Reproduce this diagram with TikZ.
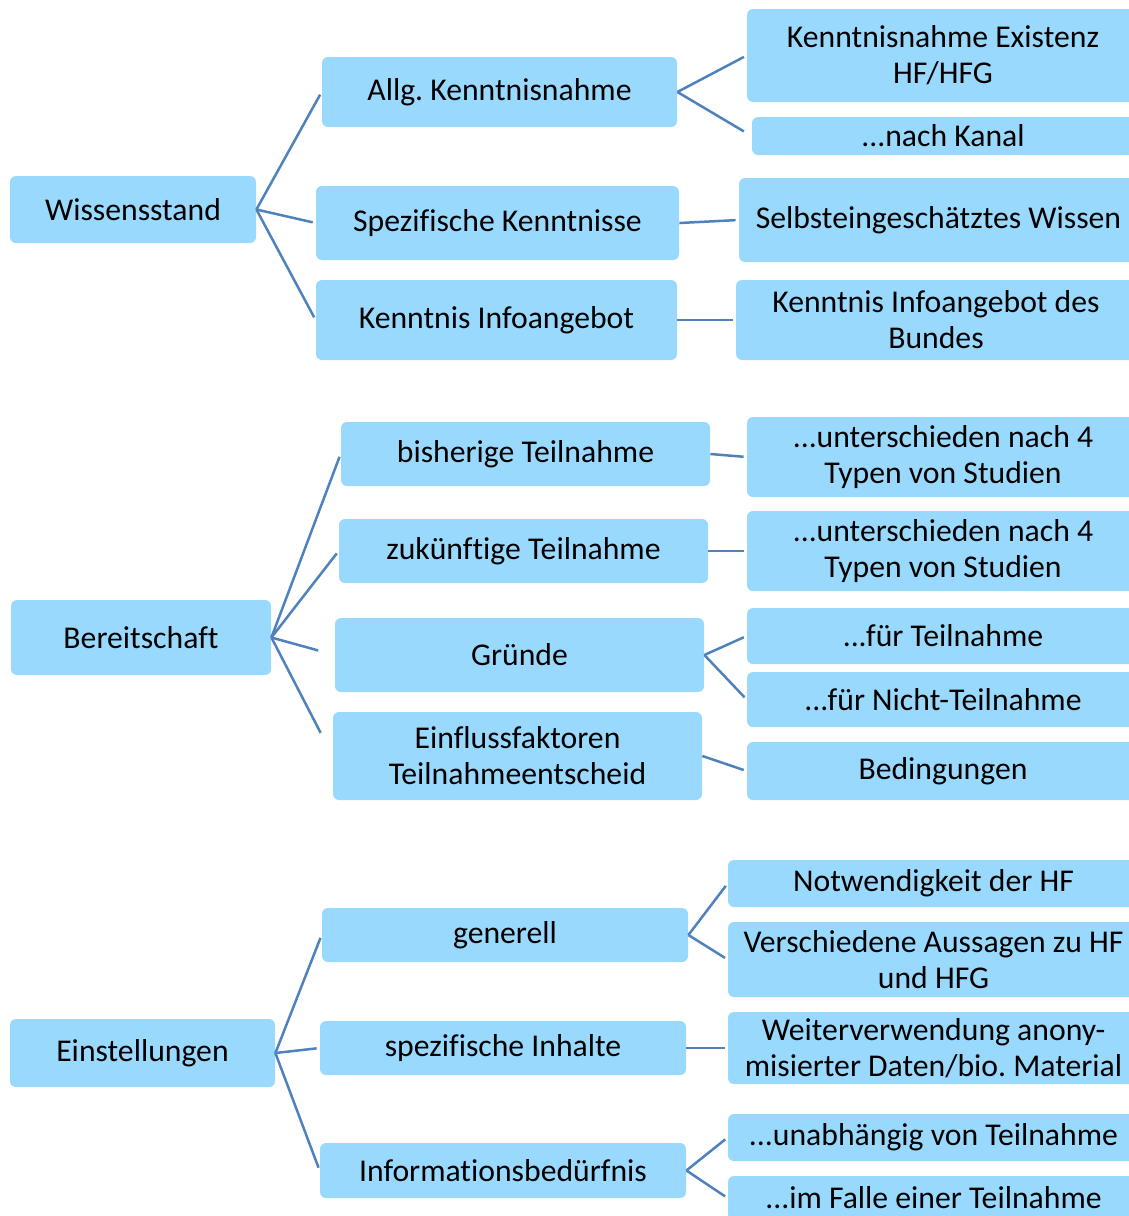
\documentclass[tikz,border=0pt]{standalone}
\usepackage{fontspec}
\setmainfont[Ligatures={NoCommon}]{Carlito}
\usepackage{tikz}

\definecolor{boxblue}{RGB}{153,217,253}
\definecolor{linkblue}{RGB}{79,129,189}

\frenchspacing
\begin{document}
\begin{tikzpicture}[x=0.5pt, y=-0.5pt]
      \useasboundingbox (0,0) rectangle (1129,1216);
      \tikzset{sz/.style 2 args={minimum width=#1*0.5pt, minimum height=#2*0.5pt}}

      \begin{scope}[every node/.style={rectangle, rounded corners=3pt, fill=boxblue, inner sep=0pt, align=center, font=\fontsize{15.85}{18}\selectfont}]
        % Wissensstand
        \node [sz={246}{67}] (w) at (133,209.5) {Wissensstand};
        \node [sz={355}{70}] (w1) at (499.5,92) {Allg. Kenntnisnahme};
        \node [sz={363}{74}] (w2) at (497.5,223) {Spezifische Kenntnisse};
        \node [sz={361}{80}] (w3) at (496.5,320) {Kenntnis Infoangebot};
        \node [sz={392}{93}] (w11) at (943,55.5) {Kenntnisnahme Existenz\\HF/HFG};
        \node [sz={382}{38}] (w12) at (943,136) {...nach Kanal};
        \node [sz={399}{84}] (w21) at (938.5,220) {Selbsteingeschätztes Wissen};
        \node [sz={400}{80}] (w31) at (936,320) {Kenntnis Infoangebot des\\Bundes};

        % Bereitschaft
        \node [sz={260}{75}] (b) at (141,637.5) {Bereitschaft};
        \node [sz={369}{64}] (b1) at (525.5,454) {bisherige Teilnahme};
        \node [sz={369}{64}] (b2) at (523.5,551) {zukünftige Teilnahme};
        \node [sz={369}{74}] (b3) at (519.5,655) {Gründe};
        \node [sz={369}{88}] (b4) at (517.5,756) {Einflussfaktoren\\Teilnahmeentscheid};
        \node [sz={392}{80}] (b11) at (943,457) {...unterschieden nach 4\\Typen von Studien};
        \node [sz={392}{80}] (b21) at (943,551) {...unterschieden nach 4\\Typen von Studien};
        \node [sz={392}{56}] (b31) at (943,636) {...für Teilnahme};
        \node [sz={392}{55}] (b32) at (943,699.5) {...für Nicht-Teilnahme};
        \node [sz={392}{58}] (b41) at (943,771) {Bedingungen};

        % Einstellungen
        \node [sz={265}{68}] (e) at (142.5,1053) {Einstellungen};
        \node [sz={366}{54}] (e1) at (505,935) {generell};
        \node [sz={366}{54}] (e2) at (503,1048) {spezifische Inhalte};
        \node [sz={366}{55}] (e3) at (503,1170.5) {Informationsbedürfnis};
        \node [sz={411}{47}] (e11) at (933.5,883.5) {Notwendigkeit der HF};
        \node [sz={411}{75}] (e12) at (933.5,959.5) {Verschiedene Aussagen zu HF\\und HFG};
        \node [sz={411}{72}] (e21) at (933.5,1048) {Weiterverwendung anony-\\misierter Daten/bio. Material};
        \node [sz={411}{47}] (e31) at (933.5,1137.5) {...unabhängig von Teilnahme};
        \node [sz={411}{44}] (e32) at (933.5,1198) {...im Falle einer Teilnahme};
      \end{scope}

      \begin{scope}[draw=linkblue, line width=1.25pt, shorten >=1.5pt]
        \draw (w.east) -- (w1.west);
        \draw (w.east) -- (w2.west);
        \draw (w.east) -- (w3.west);
        \draw (w1.east) -- (w11.west);
        \draw [shorten >=4.5pt] (w1.east) -- (w12.west);
        \draw (w2.east) -- (w21.west);
        \draw (w3.east) -- (w31.west);

        \draw (b.east) -- (b1.west);
        \draw (b.east) -- (b2.west);
        \draw [shorten >=8.5pt] (b.east) -- (b3.west);
        \draw [shorten >=13pt] (b.east) -- (b4.west);
        \draw (b1.east) -- (b11.west);
        \draw (b2.east) -- (b21.west);
        \draw (b3.east) -- (b31.west);
        \draw (b3.east) -- (b32.west);
        \draw (b4.east) -- (b41.west);

        \draw (e.east) -- (e1.west);
        \draw (e.east) -- (e2.west);
        \draw (e.east) -- (e3.west);
        \draw (e1.east) -- (e11.west);
        \draw (e1.east) -- (e12.west);
        \draw (e2.east) -- (e21.west);
        \draw (e3.east) -- (e31.west);
        \draw (e3.east) -- (e32.west);
      \end{scope}
   \end{tikzpicture}
\end{document}
